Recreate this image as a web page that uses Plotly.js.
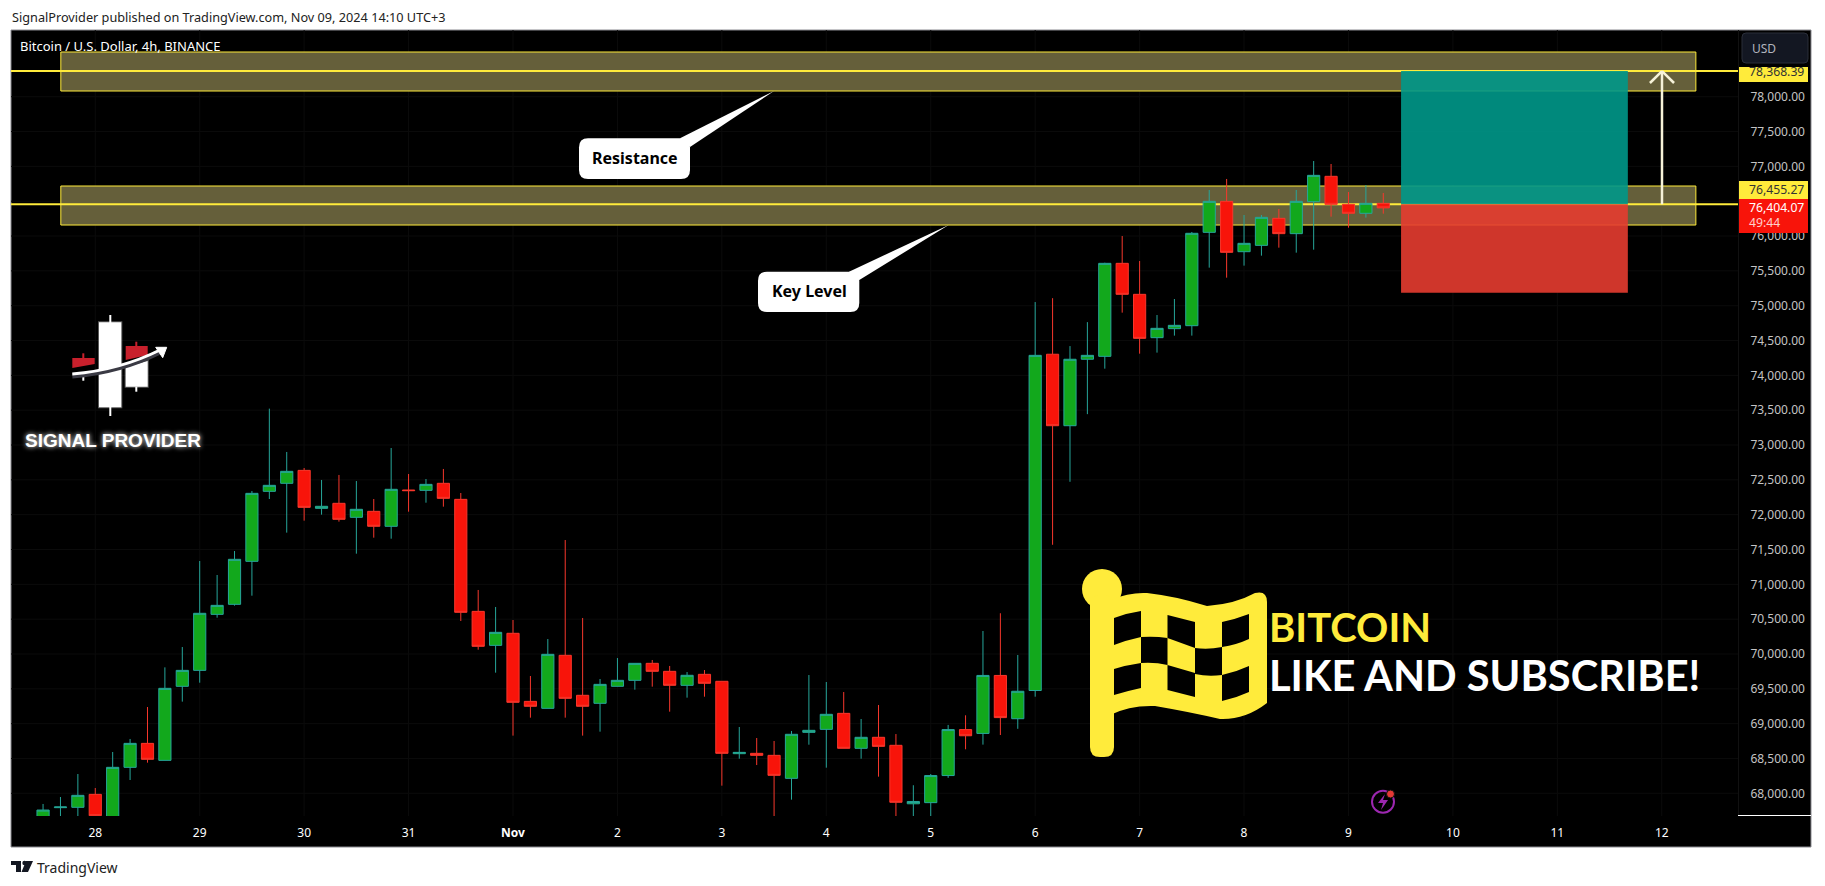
<!DOCTYPE html>
<html>
<head>
<meta charset="utf-8">
<script src="https://cdn.plot.ly/plotly-3.0.1.min.js"></script>
<style>html,body{margin:0;padding:0;background:#fff}#c{width:1825px;height:886px}</style>
</head>
<body>
<div id="c"></div>
<script>
var times = [
"2024-10-27 15:00","2024-10-27 19:00","2024-10-27 23:00",
"2024-10-28 03:00","2024-10-28 07:00","2024-10-28 11:00","2024-10-28 15:00","2024-10-28 19:00","2024-10-28 23:00",
"2024-10-29 03:00","2024-10-29 07:00","2024-10-29 11:00","2024-10-29 15:00","2024-10-29 19:00","2024-10-29 23:00",
"2024-10-30 03:00","2024-10-30 07:00","2024-10-30 11:00","2024-10-30 15:00","2024-10-30 19:00","2024-10-30 23:00",
"2024-10-31 03:00","2024-10-31 07:00","2024-10-31 11:00","2024-10-31 15:00","2024-10-31 19:00","2024-10-31 23:00",
"2024-11-01 03:00","2024-11-01 07:00","2024-11-01 11:00","2024-11-01 15:00","2024-11-01 19:00","2024-11-01 23:00",
"2024-11-02 03:00","2024-11-02 07:00","2024-11-02 11:00","2024-11-02 15:00","2024-11-02 19:00","2024-11-02 23:00",
"2024-11-03 03:00","2024-11-03 07:00","2024-11-03 11:00","2024-11-03 15:00","2024-11-03 19:00","2024-11-03 23:00",
"2024-11-04 03:00","2024-11-04 07:00","2024-11-04 11:00","2024-11-04 15:00","2024-11-04 19:00","2024-11-04 23:00",
"2024-11-05 03:00","2024-11-05 07:00","2024-11-05 11:00","2024-11-05 15:00","2024-11-05 19:00","2024-11-05 23:00",
"2024-11-06 03:00","2024-11-06 07:00","2024-11-06 11:00","2024-11-06 15:00","2024-11-06 19:00","2024-11-06 23:00",
"2024-11-07 03:00","2024-11-07 07:00","2024-11-07 11:00","2024-11-07 15:00","2024-11-07 19:00","2024-11-07 23:00",
"2024-11-08 03:00","2024-11-08 07:00","2024-11-08 11:00","2024-11-08 15:00","2024-11-08 19:00","2024-11-08 23:00",
"2024-11-09 03:00","2024-11-09 07:00","2024-11-09 11:00"];

var opens = [67665,67794,67799,67985,67665,68373,68717,68473,69536,69765,70569,70713,71330,72335,72450,72636,72091,72163,71962,72048,71833,72354,72349,72450,72220,70612,70124,70297,69320,69220,69981,69407,69292,69536,69622,69866,69751,69550,69708,69608,68569,68574,68545,68215,68875,68918,69148,68646,68804,68689,67850,67866,68255,68915,68860,69692,69071,69476,74303,73277,74231,74273,75608,75163,74541,74670,74713,76053,76498,75775,75866,76254,76034,76493,76857,76455,76326,76469];
var highs = [67847,67947,68277,68076,68593,68780,69239,69808,70100,71335,71134,71478,72340,73522,72900,72670,72498,72570,72483,72225,72957,72584,72512,72656,72311,70919,70675,70488,69684,70215,71636,70517,69641,69942,69866,69914,69828,69741,69770,69608,68952,68794,68751,68895,69698,69598,69454,69067,69268,68851,68116,68277,68982,69120,70330,70585,69986,75052,75108,74420,74764,75617,76000,75641,74866,75096,76058,76661,76819,76302,76302,76388,76661,77077,77034,76632,76732,76618];
var lows = [67641,67641,67641,67665,67617,68191,68440,68473,69316,69588,70521,70694,70837,72225,71742,71914,72000,71900,71440,71670,71655,72043,72172,72115,70474,70062,69732,68828,69086,69220,69086,68828,68885,69536,69488,69531,69172,69373,69387,68110,68497,68406,67641,67909,68698,68368,68646,68497,68239,67641,67640,67640,68222,68632,68699,68837,68926,69387,71568,72472,73443,74096,74900,74311,74326,74570,74570,75546,75402,75575,75718,75833,75761,75804,76278,76120,76264,76321];
var closes = [67760,67804,67971,67679,68373,68717,68488,69507,69765,70584,70698,71359,72306,72421,72622,72105,72120,71933,72077,71833,72364,72345,72435,72234,70598,70110,70311,69306,69249,69995,69363,69249,69564,69622,69866,69751,69550,69694,69579,68574,68588,68545,68258,68847,68904,69134,68646,68804,68674,67871,67883,68255,68915,68826,69692,69087,69465,74287,73277,74231,74287,75608,75163,74531,74675,74718,76039,76498,75766,75895,76268,76034,76498,76871,76455,76326,76469,76404.07];

var xTickVals = ["2024-10-28 03:00","2024-10-29 03:00","2024-10-30 03:00","2024-10-31 03:00","2024-11-01 03:00","2024-11-02 03:00","2024-11-03 03:00","2024-11-04 03:00","2024-11-05 03:00","2024-11-06 03:00","2024-11-07 03:00","2024-11-08 03:00","2024-11-09 03:00","2024-11-10 03:00","2024-11-11 03:00","2024-11-12 03:00"];
var xTickText = ["28","29","30","31","<b>Nov</b>","2","3","4","5","6","7","8","9","10","11","12"];
var yTickVals = [68000,68500,69000,69500,70000,70500,71000,71500,72000,72500,73000,73500,74000,74500,75000,75500,76000,76500,77000,77500,78000];

var xRange = ["2024-10-27 07:38","2024-11-12 20:31"];
var yRange = [67674.4,78957.5];
var targetPrice = 78368.39, entryPrice = 76455.27, stopPrice = 75186, lastPrice = 76404.07;
var resistanceZone = [78081.8,78641.6], keyZone = [76158,76718];
var zoneTimes = ["2024-10-27 19:05","2024-11-12 10:50"];
var positionTimes = ["2024-11-09 15:05","2024-11-11 19:12"];
var arrowTimes = ["2024-11-12 00:17","2024-11-12 03:03","2024-11-12 05:49"];
var arrowHeadPrice = 78196.6;

var YEL="#ffeb3b", W=1825, H=886, L=11, R=1738, T=30, B=816, GRID="#0b0b0b";
function fx(x){return (x-L)/(R-L);} function fy(y){return (B-y)/(B-T);}
function P(x,y){return fx(x)+","+fy(y);}
function path(a){return a.map(function(s){
  var out=s[0]; for(var i=1;i<s.length;i+=2){out+=(i>1?" ":"")+P(s[i],s[i+1]);} return out;}).join(" ");}
function paperPath(a,fill,line,lw){return {type:"path",xref:"paper",yref:"paper",path:path(a),fillcolor:fill,line:{color:line||"rgba(0,0,0,0)",width:lw||0},layer:"above"};}
function paperRect(x0,y0,x1,y1,fill,line,lw,layer){return {type:"rect",xref:"paper",yref:"paper",x0:fx(x0),x1:fx(x1),y0:fy(y0),y1:fy(y1),fillcolor:fill,line:{color:line||"rgba(0,0,0,0)",width:lw||0},layer:layer||"above"};}
function paperCircle(cx,cy,r,fill,line,lw){return {type:"circle",xref:"paper",yref:"paper",x0:fx(cx-r),x1:fx(cx+r),y0:fy(cy-r),y1:fy(cy+r),fillcolor:fill,line:{color:line||"rgba(0,0,0,0)",width:lw||0},layer:"above"};}
function roundRect(x0,y0,x1,y1,r){return [["M",x0+r,y0],["L",x1-r,y0],["Q",x1,y0,x1,y0+r],["L",x1,y1-r],["Q",x1,y1,x1-r,y1],["L",x0+r,y1],["Q",x0,y1,x0,y1-r],["L",x0,y0+r],["Q",x0,y0,x0+r,y0],["Z"]];}
function priceRect(t,p0,p1,fill,line,lw,layer){return {type:"rect",xref:"x",yref:"y",x0:t[0],x1:t[1],y0:p0,y1:p1,fillcolor:fill,line:{color:line||"rgba(0,0,0,0)",width:lw||0},layer:layer||"below"};}
function hLine(p){return {type:"line",xref:"x",yref:"y",x0:xRange[0],x1:xRange[1],y0:p,y1:p,line:{color:YEL,width:2},layer:"below"};}
function seg(t0,p0,t1,p1,c,w){return {type:"line",xref:"x",yref:"y",x0:t0,x1:t1,y0:p0,y1:p1,line:{color:c,width:w},layer:"above"};}
function note(text,x,y,font,anchor){var a=anchor||"left";return {text:text,xref:"paper",yref:"paper",x:fx(a==="left"?x-2:x),y:fy(y),xanchor:a,yanchor:"middle",showarrow:false,align:"left",font:font};}

var gridShapes = xTickVals.map(function(t){return {type:"line",xref:"x",yref:"paper",x0:t,x1:t,y0:0,y1:1,line:{color:GRID,width:1},layer:"below"};})
  .concat(yTickVals.map(function(p){return {type:"line",xref:"paper",yref:"y",x0:0,x1:1,y0:p,y1:p,line:{color:GRID,width:1},layer:"below"};}));

var shapes = [paperRect(11,30,1811,847,"#000","#8a8a90",1,"below")].concat(gridShapes).concat([
  priceRect(zoneTimes,resistanceZone[0],resistanceZone[1],"rgb(101,95,58)",YEL,1),
  priceRect(zoneTimes,keyZone[0],keyZone[1],"rgb(101,95,58)",YEL,1),
  hLine(targetPrice), hLine(entryPrice),
  priceRect(positionTimes,entryPrice,targetPrice,"rgba(0,152,137,0.9)"),
  priceRect(positionTimes,stopPrice,entryPrice,"rgba(229,60,48,0.9)"),
  seg(arrowTimes[1],entryPrice,arrowTimes[1],targetPrice,"#f6f2d8",2.5),
  seg(arrowTimes[0],arrowHeadPrice,arrowTimes[1],targetPrice,"#f6f2d8",2.5),
  seg(arrowTimes[2],arrowHeadPrice,arrowTimes[1],targetPrice,"#f6f2d8",2.5),
  // price scale furniture
  paperRect(1738,815,1811,816,"#fff"),
  paperPath(roundRect(1742,33,1808,63,4),"#131722","#2a2e39",1),
  paperRect(1739,67,1808,82,YEL),
  paperRect(1739,181,1808,199,YEL),
  paperRect(1739,199,1808,233,"#f8140a"),
  // callouts
  paperPath(roundRect(579,138.3,690,179,9),"#fff"),
  paperPath([["M",680,138.3],["L",774,91],["L",690,147],["Z"]],"#fff"),
  paperPath(roundRect(758,271.7,859.3,312,9),"#fff"),
  paperPath([["M",849,271.7],["L",948.7,225],["L",859.3,280],["Z"]],"#fff"),
  // signal provider logo
  paperRect(109.3,315,111.3,416,"#fff"),
  paperRect(99,322.3,121.3,407.3,"#fff","rgba(255,255,255,0.35)",2),
  paperRect(82.3,353.3,84.3,358,"#c8202c"),
  paperPath([["M",72.3,358],["L",94.7,358],["L",94.7,364],["L",72.3,368],["Z"]],"#c8202c"),
  paperRect(82.3,372,84.3,380.7,"#fff"),
  paperRect(135.3,341.7,137.3,346,"#c8202c"),
  paperPath([["M",125.7,346],["L",147.7,346],["L",147.7,355],["L",125.7,360],["Z"]],"#c8202c"),
  paperPath([["M",125.7,367],["L",147.7,361],["L",147.7,386.7],["L",125.7,386.7],["Z"]],"#fff","rgba(255,255,255,0.35)",2),
  paperRect(135.3,386.7,137.3,391.7,"#fff"),
  paperPath([["M",72.3,376],["Q",120,372,160,352]],"rgba(0,0,0,0)","#3a3a44",5),
  paperPath([["M",72.3,374],["Q",120,370,160,350]],"rgba(0,0,0,0)","#fff",3),
  paperPath([["M",166.7,347.3],["L",155.7,347.3],["L",162.7,357.7],["Z"]],"#fff","#fff",1),
  // flag
  paperCircle(1102,589,20,YEL),
  paperPath(roundRect(1090,595,1114,757,10),YEL),
  paperPath([["M",1110,600],["Q",1130,592,1147,593],["Q",1175,596,1207,606],["Q",1235,604,1255,593],["Q",1267,590,1267,602],["L",1267,703],["Q",1245,720,1220,719],["Q",1190,712,1155,706],["Q",1130,705,1110,715],["Z"]],YEL),
  paperPath([["M",1114,618],["Q",1127,613,1141,611],["L",1141,637],["Q",1127,640,1114,645],["Z"]],"#000"),
  paperPath([["M",1167.5,615],["L",1195,622],["L",1195,648],["L",1167.5,638],["Z"]],"#000"),
  paperPath([["M",1222,622],["Q",1236,619,1249,614],["L",1249,639],["Q",1236,645,1222,647],["Z"]],"#000"),
  paperPath([["M",1141,637],["Q",1155,636,1167.5,638],["L",1167.5,665],["Q",1155,662,1141,663],["Z"]],"#000"),
  paperPath([["M",1195,648],["Q",1208,650,1222,647],["L",1222,675],["Q",1208,677,1195,674],["Z"]],"#000"),
  paperPath([["M",1114,669],["Q",1127,665,1141,663],["L",1141,688],["Q",1127,691,1114,695],["Z"]],"#000"),
  paperPath([["M",1167.5,665],["L",1195,673],["L",1195,697],["L",1167.5,690],["Z"]],"#000"),
  paperPath([["M",1222,675],["Q",1236,672,1249,666],["L",1249,692],["Q",1236,698,1222,701],["Z"]],"#000"),
  // bolt badge
  paperCircle(1383,801.7,11,"rgba(0,0,0,0)","#9c27b0",2),
  paperPath([["M",1385,794],["L",1378,803],["L",1383,803],["L",1381,810],["L",1388,800],["L",1383,800],["Z"]],"#9c27b0"),
  paperCircle(1390.5,794,4,"#e53935","#111",1),
  // TV logo
  paperPath([["M",11,861],["L",21,861],["L",21,872],["L",16,872],["L",16,865],["L",11,865],["Z"]],"#131722"),
  paperCircle(24.5,863,2.2,"#131722"),
  paperPath([["M",26,861],["L",33,861],["L",28,872],["L",21.5,872],["Z"]],"#131722")
]);

var txt="Noto Sans, sans-serif";
var annotations = [
  note("SignalProvider published on TradingView.com, Nov 09, 2024 14:10 UTC+3",12,16.5,{family:txt,size:12.7,color:"#222"}),
  note("Bitcoin / U.S. Dollar, 4h, BINANCE",20,46,{family:txt,size:13,color:"#fff"}),
  note("USD",1752,48.5,{family:txt,size:12,color:"#b2b5be"}),
  note("78,368.39",1749,71.5,{family:txt,size:12.2,color:"#333"}),
  note("76,455.27",1749,189.5,{family:txt,size:12.2,color:"#333"}),
  note("76,404.07",1749,207.5,{family:txt,size:12.2,color:"#fff"}),
  note("49:44",1749,222.5,{family:txt,size:12.2,color:"#ffd0cc"}),
  note("<b>Resistance</b>",634.5,157.7,{family:txt,size:16,color:"#000"},"center"),
  note("<b>Key Level</b>",809,290.7,{family:txt,size:16,color:"#000"},"center"),
  note("<b>SIGNAL PROVIDER</b>",113,440.7,{family:"Liberation Sans",size:19,color:"#fff",shadow:"0 0 5px #fff"},"center"),
  note("<b>BITCOIN</b>",1269,627,{family:"Lato",size:40,color:YEL}),
  note("<b>LIKE AND SUBSCRIBE!</b>",1269,675,{family:"Lato",size:41.6,color:"#fff"}),
  note("TradingView",36.5,867,{family:txt,size:14,color:"#222"})
];

var trace = {
  type:"candlestick", x:times, open:opens, high:highs, low:lows, close:closes,
  increasing:{line:{color:"#26a69a",width:1},fillcolor:"#12a81c"},
  decreasing:{line:{color:"#f7372c",width:1},fillcolor:"#f8140a"},
  whiskerwidth:0, hoverinfo:"skip", showlegend:false
};

var layout = {
  width:W, height:H, paper_bgcolor:"#fff", plot_bgcolor:"#000", showlegend:false,
  margin:{l:L,r:W-R,t:T,b:H-B,pad:0,autoexpand:false}, boxgap:0.3, boxgroupgap:0,
  xaxis:{type:"date",range:xRange,tickmode:"array",tickvals:xTickVals,ticktext:xTickText,
    tickfont:{family:txt,size:12,color:"#fff"},ticks:"outside",ticklen:6,tickcolor:"rgba(0,0,0,0)",
    showgrid:false,showline:false,zeroline:false,rangeslider:{visible:false},fixedrange:true},
  yaxis:{side:"right",range:yRange,tickmode:"array",tickvals:yTickVals,tickformat:",.2f",
    tickfont:{family:txt,size:12,color:"#c4c4c4"},ticks:"outside",ticklen:9,tickcolor:"rgba(0,0,0,0)",
    showgrid:false,showline:true,linecolor:"#111",zeroline:false,fixedrange:true},
  shapes:shapes, annotations:annotations
};
Plotly.newPlot("c",[trace],layout,{displayModeBar:false,staticPlot:true});
</script>
</body>
</html>
